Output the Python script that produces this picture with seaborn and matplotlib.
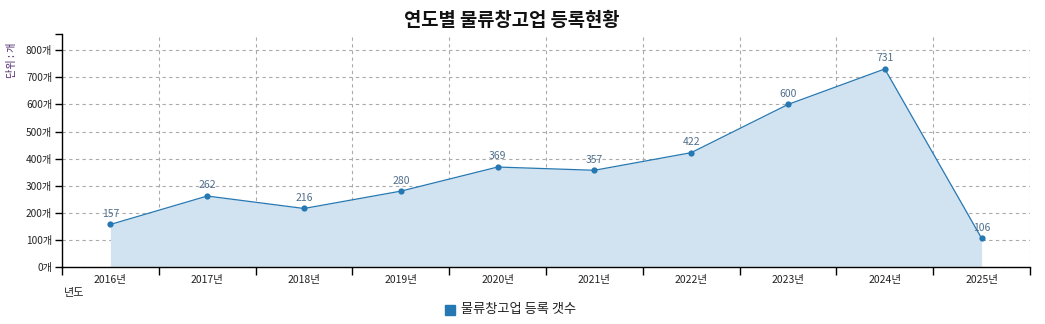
import matplotlib
matplotlib.use("Agg")
import matplotlib.pyplot as plt
import seaborn as sns
import pandas as pd
import numpy as np

years = ["2016년", "2017년", "2018년", "2019년", "2020년",
         "2021년", "2022년", "2023년", "2024년", "2025년"]
counts = [157, 262, 216, 280, 369, 357, 422, 600, 731, 106]
y_ticks = [0, 100, 200, 300, 400, 500, 600, 700, 800]
y_tick_labels = [f"{v}개" for v in y_ticks]

title = "연도별 물류창고업 등록현황"
series_name = "물류창고업 등록 갯수"
x_title = "년도"
y_title = "단위 : 개"

sns.set_theme(style="white")
plt.rcParams["font.family"] = ["Noto Sans CJK KR", "DejaVu Sans"]

line_color = "#2678b2"
fill_color = "#d1e3f0"
y_top = 860

df = pd.DataFrame({"pos": np.arange(len(years)), "count": counts})

fig = plt.figure(figsize=(10.45, 3.24), dpi=100)
ax = fig.add_axes([62 / 1045, 1 - 267 / 324, (1030 - 62) / 1045, (267 - 34) / 324])

ax.fill_between(df["pos"], df["count"], 0, color=fill_color, linewidth=0, zorder=1)
sns.lineplot(data=df, x="pos", y="count", ax=ax, color=line_color, linewidth=0.9,
             marker="o", markersize=4.5, markeredgewidth=0, zorder=3)

for p, v in zip(df["pos"], df["count"]):
    ax.annotate(str(v), (p, v), xytext=(0, 4), textcoords="offset points",
                ha="center", va="bottom", fontsize=7.5, color="#506f8c", zorder=4)

ax.set_xlim(-0.5, len(years) - 0.5)
ax.set_ylim(0, y_top)

ax.set_yticks(y_ticks)
ax.set_yticklabels(y_tick_labels, fontsize=7.3, color="#222222")
ax.set_yticks([y_top], minor=True)
ax.set_xticks(df["pos"])
ax.set_xticklabels(years, fontsize=7.5, color="#222222")
ax.set_xticks(np.arange(-0.5, len(years)), minor=True)

ax.tick_params(axis="y", which="both", length=5, width=1, color="black", pad=2, left=True)
ax.tick_params(axis="x", which="major", length=0, pad=6, bottom=True)
ax.tick_params(axis="x", which="minor", length=6, width=1, color="black", bottom=True)

ax.grid(False)
ax.grid(axis="y", which="major", linestyle=(0, (3, 3)), color="#aaaaaa", linewidth=0.8, zorder=0)
ax.grid(axis="x", which="minor", linestyle=(0, (3, 3)), color="#aaaaaa", linewidth=0.8, zorder=0)
ax.set_axisbelow(True)

for side in ["top", "right"]:
    ax.spines[side].set_visible(False)
for side in ["left", "bottom"]:
    ax.spines[side].set_color("black")
    ax.spines[side].set_linewidth(1)

ax.set_xlabel("")
ax.set_ylabel("")

fig.text(512 / 1045, 1 - 21 / 324, title, ha="center", va="center",
         fontsize=13.5, fontweight="bold", color="#111111")
fig.text(12 / 1045, 1 - 60 / 324, y_title, rotation=90, ha="center", va="center",
         fontsize=7.3, color="#4b2a6b")
fig.text(64 / 1045, 1 - 293 / 324, x_title, ha="left", va="center",
         fontsize=8, color="#222222")

fig.patches.append(plt.Rectangle((445 / 1045, 1 - 315 / 324), 10 / 1045, 10 / 324,
                                 transform=fig.transFigure, color=line_color))
fig.text(461 / 1045, 1 - 310 / 324, series_name, ha="left", va="center",
         fontsize=9.5, color="#222222")

fig.savefig("out.png", dpi=100)
